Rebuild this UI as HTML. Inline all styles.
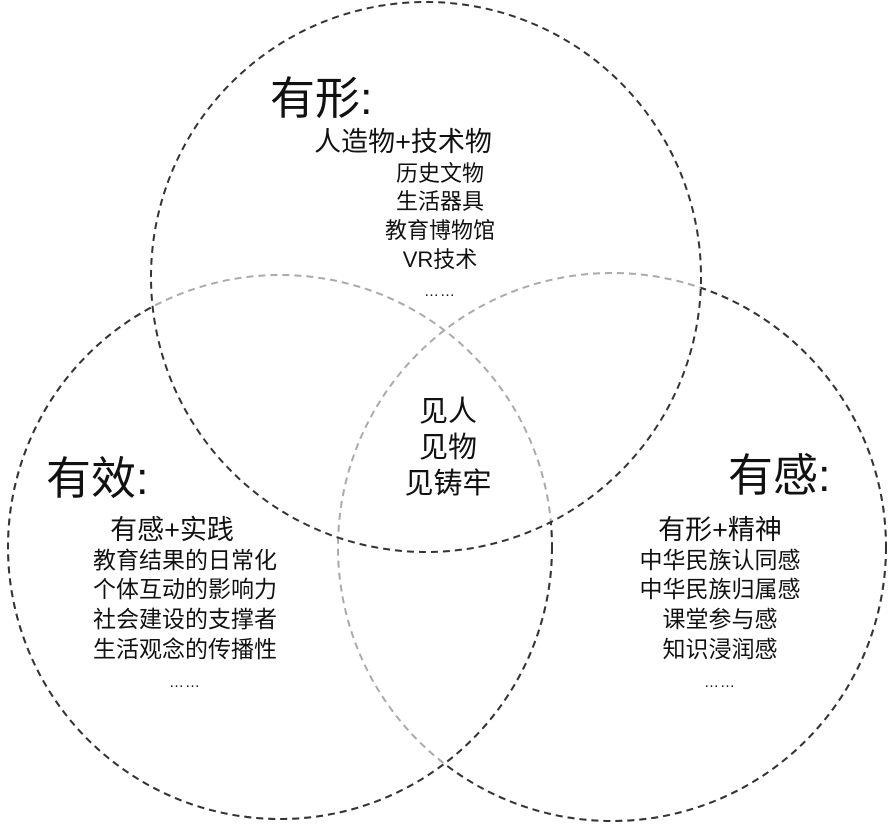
<!DOCTYPE html>
<html><head><meta charset="utf-8"><style>
html,body{margin:0;padding:0;background:#fff}
svg text{font-family:"Liberation Sans","Noto Sans CJK SC",sans-serif;fill:#111}
</style></head><body>
<svg width="890" height="827" viewBox="0 0 890 827" xmlns="http://www.w3.org/2000/svg">
<defs>
<mask id="mL"><rect width="890" height="827" fill="#fff"/><circle cx="426" cy="277" r="275" fill="#000"/></mask>
<mask id="mR"><rect width="890" height="827" fill="#fff"/><circle cx="426" cy="277" r="275" fill="#000"/><circle cx="280" cy="547" r="272" fill="#000"/></mask>
</defs>
<g fill="none" stroke-width="2" stroke-dasharray="7,5">
<circle cx="280" cy="547" r="272" stroke="#aaa"/>
<circle cx="612" cy="547" r="274" stroke="#aaa"/>
<circle cx="280" cy="547" r="272" stroke="#333" mask="url(#mL)"/>
<circle cx="612" cy="547" r="274" stroke="#333" mask="url(#mR)"/>
<circle cx="426" cy="277" r="275" stroke="#333"/>
</g>
<text x="270" y="114" font-size="45">有形:</text>
<text x="403" y="151" font-size="27" text-anchor="middle">人造物+技术物</text>
<g font-size="22" text-anchor="middle">
<text x="440" y="181">历史文物</text>
<text x="440" y="209">生活器具</text>
<text x="440" y="238">教育博物馆</text>
<text x="440" y="267">VR技术</text>
<text x="440" y="296" font-size="15" letter-spacing="1">……</text>
</g>
<g font-size="29" text-anchor="middle">
<text x="448" y="421">见人</text>
<text x="448" y="457">见物</text>
<text x="448" y="493">见铸牢</text>
</g>
<text x="46" y="494" font-size="45">有效:</text>
<text x="172" y="539" font-size="27" text-anchor="middle">有感+实践</text>
<g font-size="23" text-anchor="middle">
<text x="185" y="568">教育结果的日常化</text>
<text x="185" y="597">个体互动的影响力</text>
<text x="185" y="627">社会建设的支撑者</text>
<text x="185" y="657">生活观念的传播性</text>
<text x="185" y="687" font-size="15" letter-spacing="1">……</text>
</g>
<text x="728" y="491" font-size="45">有感:</text>
<text x="720" y="539" font-size="27" text-anchor="middle">有形+精神</text>
<g font-size="23" text-anchor="middle">
<text x="720" y="568">中华民族认同感</text>
<text x="720" y="597">中华民族归属感</text>
<text x="720" y="627">课堂参与感</text>
<text x="720" y="657">知识浸润感</text>
<text x="720" y="687" font-size="15" letter-spacing="1">……</text>
</g>
</svg>
</body></html>
